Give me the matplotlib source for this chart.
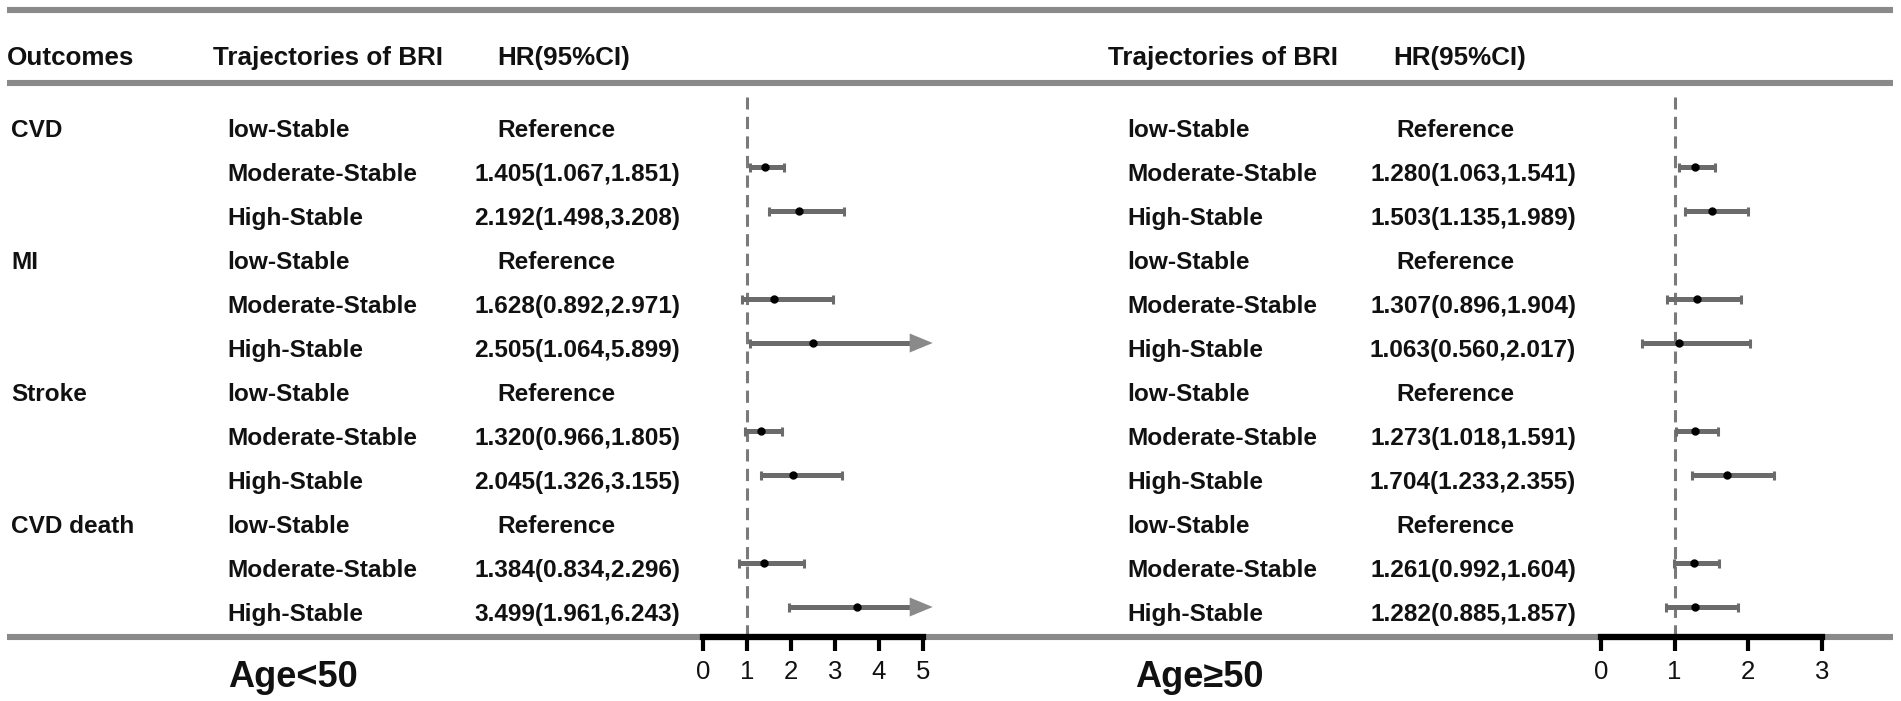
import matplotlib
matplotlib.use("Agg")
import matplotlib.pyplot as plt
from matplotlib.lines import Line2D
from matplotlib.patches import Polygon

# ---------------- data ----------------
outcomes = ["CVD", "MI", "Stroke", "CVD death"]
trajectories = ["low-Stable", "Moderate-Stable", "High-Stable"]

# Age<50 (Moderate-Stable, High-Stable) per outcome
young_hr = [[1.405, 2.192], [1.628, 2.505], [1.320, 2.045], [1.384, 3.499]]
young_lo = [[1.067, 1.498], [0.892, 1.064], [0.966, 1.326], [0.834, 1.961]]
young_hi = [[1.851, 3.208], [2.971, 5.899], [1.805, 3.155], [2.296, 6.243]]
young_ticks = [0, 1, 2, 3, 4, 5]

# Age>=50
old_hr = [[1.280, 1.503], [1.307, 1.063], [1.273, 1.704], [1.261, 1.282]]
old_lo = [[1.063, 1.135], [0.896, 0.560], [1.018, 1.233], [0.992, 0.885]]
old_hi = [[1.541, 1.989], [1.904, 2.017], [1.591, 2.355], [1.604, 1.857]]
old_ticks = [0, 1, 2, 3]

header_left = ["Outcomes", "Trajectories of BRI", "HR(95%CI)"]
header_right = ["Trajectories of BRI", "HR(95%CI)"]
panel_titles = ["Age<50", "Age\u226550"]
ref_label = "Reference"

# ---------------- layout ----------------
W, H = 1901, 701
FONT = "Liberation Sans"
GRAY_LINE = "#8a8a8a"
BAR = "#6b6b6b"
TXT = "#111111"

fig = plt.figure(figsize=(W / 100, H / 100), dpi=100)
fig.patch.set_facecolor("white")


def fx(x):
    return x / W


def fy(y):
    return 1 - y / H


def hline(y, lw=4.4):
    fig.add_artist(Line2D([fx(7), fx(1893)], [fy(y), fy(y)], lw=lw,
                          color=GRAY_LINE, solid_capstyle="butt", zorder=0))


hline(9.5)
hline(83)
hline(637)

ROW0 = 137      # baseline pixel of first row
STEP = 44
HDR = 65
RS = 17.6

def txt(x, y, s, size=RS, ha="left", weight="bold"):
    fig.text(fx(x), fy(y), s, ha=ha, va="baseline", fontsize=size,
             fontweight=weight, family=FONT, color=TXT)


# headers
txt(7, HDR, header_left[0], size=18.7)
txt(213, HDR, header_left[1], size=18.7)
txt(497, HDR, header_left[2], size=18.7)
txt(1108, HDR, header_right[0], size=18.7)
txt(1393, HDR, header_right[1], size=18.7)

panels = [
    dict(hr=young_hr, lo=young_lo, hi=young_hi, ticks=young_ticks,
         traj_x=227, ref_x=497, num_cx=577, ax_x0=702.7, ax_w=220.0,
         title_x=228),
    dict(hr=old_hr, lo=old_lo, hi=old_hi, ticks=old_ticks,
         traj_x=1127, ref_x=1396, num_cx=1473, ax_x0=1601.0, ax_w=221.0,
         title_x=1135),
]

# outcome labels
for k, o in enumerate(outcomes):
    txt(11, ROW0 + STEP * 3 * k, o)

BAR_OFF = 14   # bars sit above text baseline
TOP, BOT = 92, 637

for p_i, p in enumerate(panels):
    # texts
    for k in range(len(outcomes)):
        for j, t in enumerate(trajectories):
            r = 3 * k + j
            yb = ROW0 + STEP * r
            txt(p["traj_x"], yb, t)
            if j == 0:
                txt(p["ref_x"], yb, ref_label)
            else:
                h, l, u = p["hr"][k][j - 1], p["lo"][k][j - 1], p["hi"][k][j - 1]
                txt(p["num_cx"], yb, f"{h:.3f}({l:.3f},{u:.3f})", ha="center")
    txt(p["title_x"], 687, panel_titles[p_i], size=26)

    # forest axes
    ax = fig.add_axes([fx(p["ax_x0"]), fy(BOT), p["ax_w"] / W, (BOT - TOP) / H])
    ax.patch.set_alpha(0)
    xmax = p["ticks"][-1]
    ax.set_xlim(0, xmax)
    y0 = ROW0 - BAR_OFF
    ax.set_ylim((BOT - y0) / STEP, (TOP - y0) / STEP)
    for s in ["top", "left", "right"]:
        ax.spines[s].set_visible(False)
    ax.spines["bottom"].set_linewidth(4.5)
    ax.spines["bottom"].set_color("black")
    ax.spines["bottom"].set_zorder(5)
    ax.set_yticks([])
    ax.set_xticks(p["ticks"])
    ax.set_xticklabels([str(t) for t in p["ticks"]])
    ax.tick_params(axis="x", direction="out", length=10, width=3, color="black",
                   pad=6.5, labelsize=18.5)
    for lab in ax.get_xticklabels():
        lab.set_family(FONT)
        lab.set_color(TXT)

    ax.axvline(1, color="#7a7a7a", lw=2.2, ls=(0, (4.0, 2.4)), zorder=1,
               ymax=1 - 5 / (BOT - TOP))

    px_per_unit = p["ax_w"] / xmax
    cap_h = 4.5 / STEP
    for k in range(len(outcomes)):
        for j in range(2):
            r = 3 * k + j + 1
            h, l, u = p["hr"][k][j], p["lo"][k][j], p["hi"][k][j]
            if u > xmax:
                tip = xmax + 10 / px_per_unit
                head_start = tip - 23 / px_per_unit
                ax.hlines(r, l, head_start, color=BAR, lw=3.6, zorder=2, clip_on=False)
                ax.vlines(l, r - cap_h, r + cap_h, color=BAR, lw=2.2, zorder=2)
                hw = 9.5 / STEP
                ax.add_patch(Polygon([[head_start, r - hw], [tip, r],
                                      [head_start, r + hw]], closed=True,
                                     facecolor="#8a8a8a", edgecolor="none",
                                     clip_on=False, zorder=2))
            else:
                ax.hlines(r, l, u, color=BAR, lw=3.6, zorder=2)
                ax.vlines([l, u], r - cap_h, r + cap_h, color=BAR, lw=2.2, zorder=2)
            ax.plot([h], [r], "o", color="black", ms=5, zorder=3)

fig.savefig("out.png", dpi=100, facecolor="white")
